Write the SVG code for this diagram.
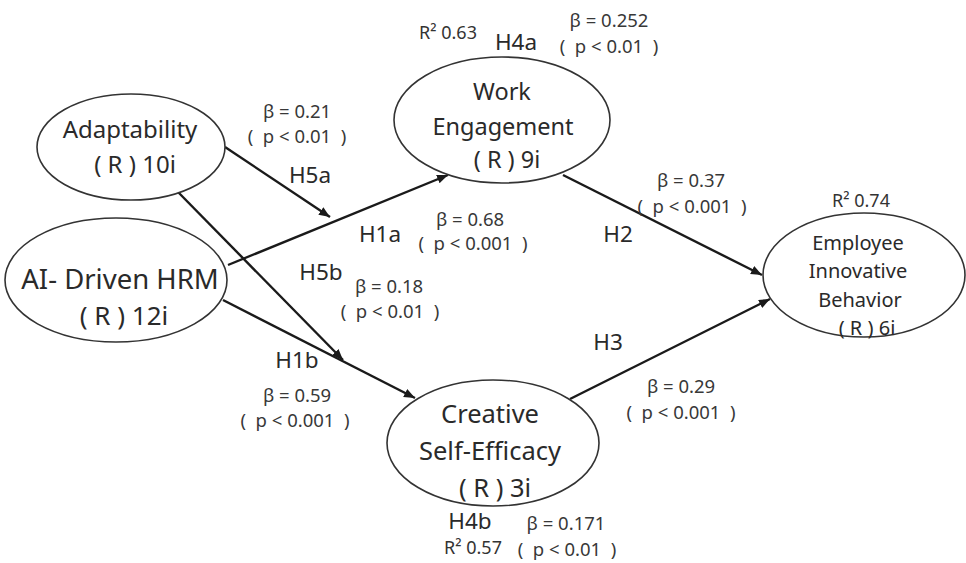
<svg xmlns="http://www.w3.org/2000/svg" width="966" height="563" viewBox="0 0 966 563">
<style>
text{font-family:"Noto Sans","Noto Sans CJK SC",sans-serif;text-anchor:middle;fill:#2a2a2a;white-space:pre}
.node ellipse{fill:#fff;stroke:#333;stroke-width:1.6}
.lb{font-size:18.5px;fill:#383838}
.h{font-size:22.5px;fill:#2a2a2a}
.r2{font-size:18px;fill:#333}
.edge{stroke:#1a1a1a;stroke-width:2.4;fill:none;marker-end:url(#ah)}
</style>
<defs>
<marker id="ah" markerUnits="userSpaceOnUse" markerWidth="12" markerHeight="10" refX="11" refY="4.5" orient="auto">
<path d="M0,0 L11,4.5 L0,9 z" fill="#1a1a1a"/>
</marker>
</defs>
<rect width="966" height="563" fill="#fff"/>
<g id="connectors">
<line class="edge" x1="225" y1="147" x2="330" y2="217"/>
<line class="edge" x1="228" y1="265" x2="448" y2="175"/>
<line class="edge" x1="178" y1="192" x2="343" y2="360"/>
<line class="edge" x1="223" y1="300" x2="415" y2="398"/>
<line class="edge" x1="563" y1="175" x2="762" y2="275"/>
<line class="edge" x1="570" y1="399" x2="770" y2="299"/>
</g>
<g id="adaptability" class="node">
<ellipse cx="131" cy="147" rx="94" ry="53"/>
<text x="130" y="138" font-size="24">Adaptability</text>
<text x="135" y="173" font-size="24">( R ) 10i</text>
</g>
<g id="ai-hrm" class="node">
<ellipse cx="116" cy="280" rx="111" ry="62"/>
<text x="120" y="289" font-size="27.5">AI- Driven HRM</text>
<text x="124" y="325" font-size="26">( R ) 12i</text>
</g>
<g id="work-engagement" class="node">
<ellipse cx="502" cy="120" rx="108" ry="63"/>
<text x="502" y="100" font-size="23.5">Work</text>
<text x="503" y="135" font-size="23.5">Engagement</text>
<text x="507" y="168" font-size="23.5">( R ) 9i</text>
</g>
<g id="innovative-behavior" class="node">
<ellipse cx="864" cy="275" rx="101" ry="62"/>
<text x="858" y="250" font-size="20">Employee</text>
<text x="858" y="278" font-size="20">Innovative</text>
<text x="860" y="307" font-size="20">Behavior</text>
<text x="867" y="335" font-size="20">( R ) 6i</text>
</g>
<g id="creative-self-efficacy" class="node">
<ellipse cx="493" cy="443" rx="106" ry="63"/>
<text x="490" y="423" font-size="25.5">Creative</text>
<text x="490" y="460" font-size="25.5">Self-Efficacy</text>
<text x="495" y="497" font-size="25.5">( R ) 3i</text>
</g>
<g id="labels">
<text class="lb" x="297" y="118">β = 0.21</text>
<text class="lb" x="297" y="143">(  p &lt; 0.01  )</text>
<text class="h" x="310" y="183">H5a</text>
<text class="h" x="380" y="242">H1a</text>
<text class="lb" x="470" y="226">β = 0.68</text>
<text class="lb" x="473" y="250">(  p &lt; 0.001  )</text>
<text class="h" x="321" y="280">H5b</text>
<text class="lb" x="389" y="293">β = 0.18</text>
<text class="lb" x="390" y="318">(  p &lt; 0.01  )</text>
<text class="h" x="297" y="368">H1b</text>
<text class="lb" x="297" y="402">β = 0.59</text>
<text class="lb" x="295" y="427">(  p &lt; 0.001  )</text>
<text class="h" x="618" y="242">H2</text>
<text class="lb" x="691" y="187">β = 0.37</text>
<text class="lb" x="692" y="213">(  p &lt; 0.001  )</text>
<text class="h" x="608" y="350">H3</text>
<text class="lb" x="681" y="393">β = 0.29</text>
<text class="lb" x="681" y="419">(  p &lt; 0.001  )</text>
<text class="r2" x="861" y="207">R² 0.74</text>
<text class="r2" x="448" y="39">R² 0.63</text>
<text class="h" x="516" y="50">H4a</text>
<text class="lb" x="609" y="27">β = 0.252</text>
<text class="lb" x="609" y="53">(  p &lt; 0.01  )</text>
<text class="h" x="470" y="529" font-size="21.5">H4b</text>
<text class="r2" x="473" y="554" font-size="17">R² 0.57</text>
<text class="lb" x="566" y="530">β = 0.171</text>
<text class="lb" x="567" y="556">(  p &lt; 0.01  )</text>
</g>
</svg>
